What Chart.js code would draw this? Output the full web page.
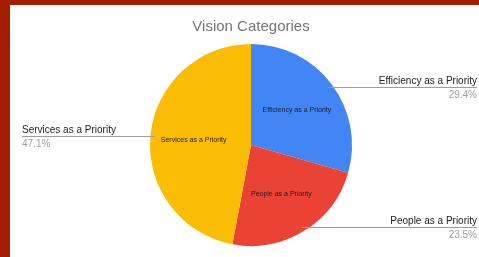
<!DOCTYPE html>
<html>
<head>
<meta charset="utf-8">
<script src="https://cdn.jsdelivr.net/npm/chart.js@4"></script>
<style>
  html, body { margin: 0; padding: 0; }
  body { background: #a61c00; width: 479px; height: 257px; overflow: hidden; position: relative; }
  #wrap { position: absolute; left: 10px; top: 5px; width: 469px; height: 252px; background: #ffffff; }
  canvas { display: block; }
</style>
</head>
<body>
<div id="wrap"><canvas id="c" width="469" height="252"></canvas></div>
<script>
const titleText = "Vision Categories";
const categories = ["Efficiency as a Priority", "People as a Priority", "Services as a Priority"];
const values = [5, 4, 8];
const colors = ["#4285f4", "#ea4335", "#fbbc04"];

const FONT = "Arial, 'Liberation Sans', sans-serif";

const labelPlugin = {
  id: 'sliceLabels',
  afterDatasetsDraw(chart) {
    const ctx = chart.ctx;
    const meta = chart.getDatasetMeta(0);
    const total = values.reduce((a, b) => a + b, 0);
    ctx.save();
    meta.data.forEach((arc, i) => {
      const p = arc.getProps(['x', 'y', 'startAngle', 'endAngle', 'outerRadius'], true);
      const mid = (p.startAngle + p.endAngle) / 2;
      const cos = Math.cos(mid), sin = Math.sin(mid);
      // inside label
      const ri = p.outerRadius * 0.57;
      ctx.font = "7px " + FONT;
      ctx.fillStyle = "#222222";
      ctx.textAlign = "center";
      ctx.textBaseline = "middle";
      ctx.fillText(categories[i], p.x + ri * cos, p.y + ri * sin);
      // outside label with leader line
      const ra = p.outerRadius * 0.955;
      const ax = p.x + ra * cos, ay = Math.round(p.y + ra * sin) + 0.5;
      const right = cos > 0;
      const tx = right ? chart.width - 2 : 12;
      ctx.strokeStyle = "#9e9e9e";
      ctx.lineWidth = 1;
      ctx.beginPath();
      ctx.moveTo(ax, ay);
      ctx.lineTo(tx, ay);
      ctx.stroke();
      ctx.textAlign = right ? "right" : "left";
      ctx.font = "10px " + FONT;
      ctx.fillStyle = "#222222";
      ctx.fillText(categories[i], tx, ay - 6);
      ctx.fillStyle = "#9e9e9e";
      const pct = (values[i] / total * 100).toFixed(1) + "%";
      ctx.fillText(pct, tx, ay + 7.5);
    });
    ctx.restore();
  }
};

new Chart(document.getElementById('c'), {
  type: 'pie',
  data: {
    labels: categories,
    datasets: [{
      data: values,
      backgroundColor: colors,
      borderWidth: 0
    }]
  },
  options: {
    responsive: false,
    animation: false,
    devicePixelRatio: 1,
    layout: { padding: { top: 0, bottom: 11, left: 50, right: 37 } },
    plugins: {
      legend: { display: false },
      tooltip: { enabled: false },
      title: {
        display: true,
        text: titleText,
        color: '#757575',
        font: { family: FONT, size: 15, weight: 'normal' },
        padding: { top: 13, bottom: 8 }
      }
    }
  },
  plugins: [labelPlugin]
});
</script>
</body>
</html>
